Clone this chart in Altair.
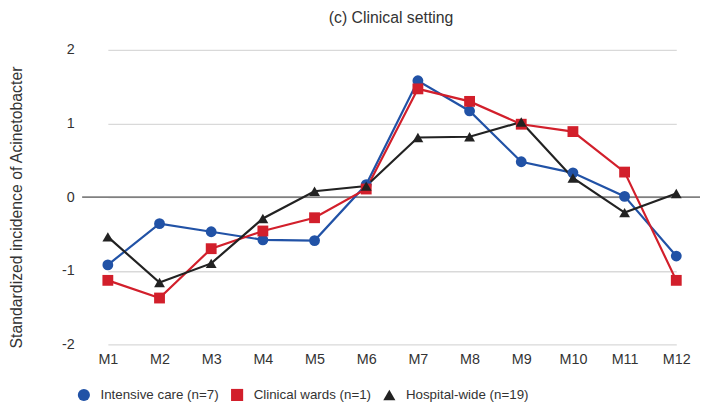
import altair as alt
import pandas as pd

months = ["M1", "M2", "M3", "M4", "M5", "M6", "M7", "M8", "M9", "M10", "M11", "M12"]
series_names = ["Intensive care (n=7)", "Clinical wards (n=1)", "Hospital-wide (n=19)"]
icu = [-0.92, -0.36, -0.47, -0.58, -0.59, 0.17, 1.58, 1.17, 0.48, 0.33, 0.01, -0.80]
wards = [-1.13, -1.37, -0.70, -0.46, -0.28, 0.11, 1.47, 1.30, 0.99, 0.89, 0.34, -1.13]
hospital = [-0.54, -1.16, -0.90, -0.29, 0.08, 0.15, 0.81, 0.82, 1.02, 0.26, -0.21, 0.05]
colors = ["#2152a6", "#d21f2b", "#222222"]
shapes = ["circle", "square", "triangle-up"]
y_ticks = [-2, -1, 0, 1, 2]

rows = []
for name, vals in zip(series_names, [icu, wards, hospital]):
    for m, v in zip(months, vals):
        rows.append({"month": m, "value": v, "series": name})
df = pd.DataFrame(rows)

FONT = "Liberation Sans"
TXT = "#333333"

x_enc = alt.X("month:N", sort=months, scale=alt.Scale(type="point", range=[26, 601], padding=0),
              axis=alt.Axis(title=None, labelFontSize=14.5, labelColor=TXT, labelPadding=8,
                            ticks=False, domain=False, grid=False, labelFont=FONT, labelAngle=0))
y_enc = alt.Y("value:Q", scale=alt.Scale(domain=[-2, 2], nice=False),
              axis=alt.Axis(title="Standardized incidence of Acinetobacter", values=y_ticks,
                            labelExpr="'' + datum.value",
                            titleFontSize=16, titleFontWeight="normal", titleColor=TXT,
                            titleFont=FONT, titlePadding=37, titleY=159,
                            labelFontSize=14.5, labelColor=TXT, labelFont=FONT, labelPadding=8,
                            ticks=False, domain=False, grid=True, gridColor="#d9d9d9", gridWidth=1.3))
legend_kw = dict(title=None, orient="none", direction="horizontal",
                 legendX=-5, legendY=342, labelFontSize=13.5, labelColor=TXT, labelFont=FONT,
                 symbolSize=150, symbolStrokeWidth=0, columnPadding=11, labelOffset=10)
color_enc = alt.Color("series:N", scale=alt.Scale(domain=series_names, range=colors),
                      legend=alt.Legend(**legend_kw))
shape_enc = alt.Shape("series:N", scale=alt.Scale(domain=series_names, range=shapes),
                      legend=alt.Legend(**legend_kw))

base = alt.Chart(df)
zero = alt.Chart(pd.DataFrame({"z": [0]})).mark_rule(color="#808080", strokeWidth=1.8).encode(y="z:Q")
lines = base.mark_line(strokeWidth=2.2).encode(x=x_enc, y=y_enc, color=color_enc, detail="series:N")
points = base.mark_point(filled=True, size=120, opacity=1).encode(
    x=x_enc, y=y_enc, color=color_enc, shape=shape_enc)

chart = alt.layer(zero, lines, points).properties(
    width=625, height=298,
    title=alt.TitleParams("(c) Clinical setting", fontSize=16, font=FONT, fontWeight="normal",
                          color=TXT, offset=16),
    autosize=alt.AutoSizeParams(type="none"),
    padding={"left": 75, "top": 40, "right": 0, "bottom": 62},
).configure_view(stroke=None)

chart.save("out.html", embed_options={"renderer": "svg", "actions": False})
